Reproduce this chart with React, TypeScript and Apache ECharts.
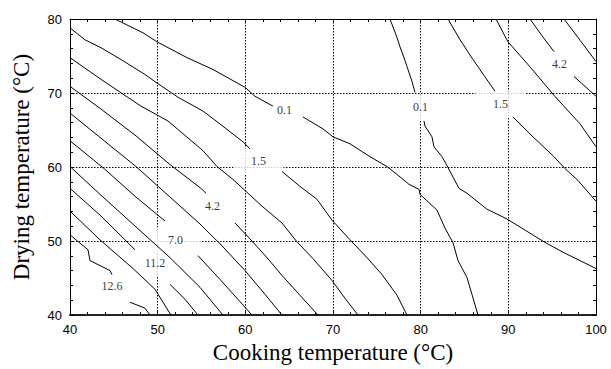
import React, { useEffect, useRef } from "react";
import * as echarts from "echarts";

// Axis ranges / ticks
const xRange = [40, 100];
const yRange = [40, 80];
const tickStep = 10;

// Contour segments (cooking temp °C, drying temp °C)
const c01a = [[45.13, 80], [48.33, 78.13], [49.92, 76.92], [53.35, 74.78], [56.31, 73.18], [59.96, 70.77], [61.1, 69.56], [63.15, 68.23]];
const c01b = [[66.58, 66.76], [68.86, 65.15], [70.0, 64.08], [71.94, 63.14], [74.22, 61.4], [76.16, 60.07], [77.87, 58.46], [78.67, 57.66], [79.81, 56.99], [79.92, 56.32], [81.86, 54.18], [82.77, 51.77], [83.69, 49.77], [84.26, 47.36], [85.28, 45.08], [85.85, 42.81], [86.54, 40]];
const c01c = [[76.5, 80], [77.3, 77.5], [77.64, 76.25], [78.1, 74.78], [78.44, 73.58], [79.01, 71.57], [79.35, 70.1]];
const c01d = [[80.38, 66.22], [80.49, 65.55], [81.29, 64.08], [81.52, 62.74], [82.43, 61.4], [83.0, 60.2], [84.37, 57.12], [85.28, 56.46], [87.56, 54.31], [89.85, 52.98], [94.07, 49.9], [96.35, 48.43], [100, 46.29]];
const c15a = [[40, 78.8], [41.71, 77.19], [43.54, 76.12], [45.82, 74.52], [48.55, 72.51], [49.81, 71.44], [52.32, 69.43], [55.17, 67.56], [57.11, 65.82], [59.73, 63.41], [60.53, 62.47]];
const c15b = [[64.18, 59.4], [66.23, 57.39], [68.17, 55.65], [69.88, 52.84], [71.94, 50.17], [73.88, 47.76], [75.59, 45.48], [77.3, 42.68], [78.44, 40]];
const c15c = [[83.12, 80], [84.49, 77.19], [85.97, 74.52], [88.48, 70.23]];
const c15d = [[90.53, 66.76], [92.81, 64.08], [95.09, 61.54], [96.46, 59.8], [97.94, 58.19], [100, 55.38]];
const c28a = [[40, 74.78], [43.54, 71.84], [48.1, 68.23], [51.18, 66.22], [55.17, 62.21], [56.77, 60.07], [58.59, 58.33], [61.9, 54.72], [64.18, 52.44], [65.89, 49.9], [67.72, 47.63], [69.88, 44.68], [71.37, 42.27], [72.85, 40]];
const c28b = [[88.59, 80], [89.96, 76.92], [92.5, 73.5], [95.2, 69.7], [98.2, 65.8], [100, 62.74]];
const c42a = [[40, 70.9], [43.54, 67.83], [47.53, 64.21], [51.41, 60.33], [54.94, 57.12], [55.51, 56.46]];
const c42b = [[58.82, 52.44], [60.53, 50.3], [62.47, 47.76], [64.18, 45.35], [66.23, 42.68], [68.29, 40]];
const c42c = [[92.47, 80], [93.8, 77.8], [95.21, 75.59]];
const c42d = [[97.49, 72.24], [100, 69.56]];
const c56a = [[40, 67.29], [43.76, 63.68], [47.53, 60.07], [51.18, 56.19], [54.83, 52.31], [57.34, 49.36], [59.96, 46.02], [62.24, 42.81], [64.18, 40]];
const c56b = [[96.35, 80], [98.2, 77.1], [100, 74.25]];
const c70a = [[40, 63.55], [43.88, 59.8], [47.41, 56.06], [50.84, 52.71]];
const c70b = [[54.6, 48.03], [57.11, 44.82], [59.96, 41.07], [60.76, 40]];
const c84 = [[40, 60.07], [43.42, 56.32], [47.41, 52.04], [51.41, 47.76], [54.83, 43.75], [57.45, 40]];
const c112a = [[40, 57.12], [43.42, 53.51], [45.7, 50.84], [47.41, 48.83]];
const c112b = [[51.41, 44.15], [53.12, 42.14], [54.6, 40]];
const c119 = [[40, 54.05], [43.42, 50.17], [47.19, 46.29], [49.7, 43.48], [51.52, 40]];
const c126a = [[40, 50.84], [42.05, 48.83], [42.28, 47.36], [44.56, 46.02], [44.79, 45.48]];
const c126b = [[46.84, 41.74], [48.55, 40.94], [49.12, 40]];

const segments = [c01a, c01b, c01c, c01d, c15a, c15b, c15c, c15d, c28a, c28b, c42a, c42b, c42c, c42d, c56a, c56b, c70a, c70b, c84, c112a, c112b, c119, c126a, c126b];

// Contour value labels
const labelTexts = ["0.1", "1.5", "4.2", "7.0", "11.2", "12.6", "0.1", "1.5", "4.2"];
const labelX = [64.47, 61.5, 56.25, 52.03, 49.7, 44.79, 79.98, 89.1, 95.83];
const labelY = [67.69, 60.8, 54.72, 50.1, 47.09, 43.88, 68.09, 68.5, 73.98];

const xTitle = "Cooking temperature (°C)";
const yTitle = "Drying temperature (°C)";

export default function App() {
  const ref = useRef<HTMLDivElement>(null);
  useEffect(() => {
    document.body.style.margin = "0";
    const chart = echarts.init(ref.current!, null, { renderer: "svg" });
    const labelData = labelTexts.map((t, i) => ({ name: t, value: [labelX[i], labelY[i]] }));
    const frame = { show: true, lineStyle: { color: "#000", width: 1 } };
    const tick = { show: true, inside: true, length: 4, lineStyle: { color: "#000" } };
    const minor = { show: true, splitNumber: 5, length: 3, lineStyle: { color: "#000" } };
    const grid = { show: true, lineStyle: { color: "#000", type: [1.5, 1.5], width: 1 } };
    const tickFont = { fontFamily: "Liberation Sans", fontSize: 13, color: "#000" };
    const titleFont = { fontFamily: "Liberation Serif", fontSize: 23, color: "#000" };
    chart.setOption({
      animation: false,
      grid: { left: 70, right: 15, top: 19, bottom: 51 },
      xAxis: [
        {
          type: "value", min: xRange[0], max: xRange[1], interval: tickStep, position: "bottom",
          axisLine: { show: true, onZero: false, lineStyle: { color: "#222", width: 2 } },
          axisTick: tick, minorTick: minor, splitLine: grid,
          axisLabel: { ...tickFont, margin: 8 },
          name: xTitle, nameLocation: "middle", nameGap: 24, nameTextStyle: titleFont,
        },
        {
          type: "value", min: xRange[0], max: xRange[1], interval: tickStep, position: "top",
          axisLine: { ...frame, onZero: false }, axisTick: tick, minorTick: minor,
          splitLine: { show: false }, axisLabel: { show: false },
        },
      ],
      yAxis: [
        {
          type: "value", min: yRange[0], max: yRange[1], interval: tickStep, position: "left",
          axisLine: { ...frame, onZero: false }, axisTick: tick, minorTick: minor, splitLine: grid,
          axisLabel: { ...tickFont, margin: 8 },
          name: yTitle, nameLocation: "middle", nameGap: 37, nameTextStyle: titleFont,
        },
        {
          type: "value", min: yRange[0], max: yRange[1], interval: tickStep, position: "right",
          axisLine: { ...frame, onZero: false }, axisTick: tick, minorTick: minor,
          splitLine: { show: false }, axisLabel: { show: false },
        },
      ],
      series: [
        {
          type: "scatter", z: 1, silent: true, symbol: "rect", symbolSize: [50, 26],
          itemStyle: { color: "#fff" }, data: labelData,
        },
        ...segments.map((seg) => ({
          type: "line", z: 2, silent: true, showSymbol: false, symbol: "none", smooth: false,
          lineStyle: { color: "#000", width: 1 }, data: seg,
        })),
        {
          type: "scatter", z: 3, silent: true, symbolSize: 0, data: labelData,
          itemStyle: { color: "#000" },
          label: {
            show: true, position: "inside", formatter: "{b}",
            fontFamily: "Liberation Serif", fontSize: 12, color: "#000",
            textBorderWidth: 0, textBorderColor: "transparent",
          },
        },
      ],
    });
    return () => chart.dispose();
  }, []);
  return <div ref={ref} style={{ position: "absolute", left: 0, top: 0, width: 611, height: 369 }} />;
}
